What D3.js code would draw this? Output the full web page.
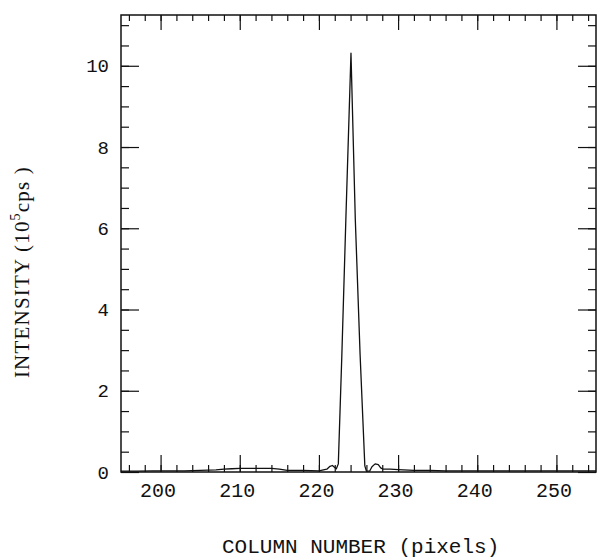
<!DOCTYPE html>
<html>
<head>
<meta charset="utf-8">
<script src="https://cdn.jsdelivr.net/npm/d3@7"></script>
<style>
  body { margin: 0; background: #fff; }
  .tick text { font-family: "Liberation Mono", "Courier New", monospace; }
</style>
</head>
<body>
<script>
// column number (pixels) vs intensity (10^5 cps)
var columns = [195, 197, 199, 201, 203, 205, 207, 208, 209, 210, 212, 214, 215, 216, 218, 220, 221,
    221.4, 221.7, 222.0, 222.2, 222.45, 222.9, 223.4, 224.05, 224.6, 225.2, 225.8, 226.0, 226.4,
    226.7, 227.1, 227.5, 227.8, 228.1, 229, 230, 232, 234, 236, 238, 240, 242, 244, 246, 248, 250, 252, 254, 255];
var intensity = [0.02, 0.02, 0.03, 0.03, 0.03, 0.04, 0.05, 0.07, 0.08, 0.09, 0.09, 0.09, 0.07, 0.04, 0.04, 0.03, 0.07,
    0.14, 0.16, 0.11, 0.08, 0.2, 2.9, 6.2, 10.31, 6.2, 2.9, 0.15, 0.02, 0.02,
    0.13, 0.2, 0.18, 0.1, 0.07, 0.07, 0.06, 0.04, 0.04, 0.03, 0.03, 0.03, 0.03, 0.03, 0.03, 0.03, 0.03, 0.03, 0.03, 0.03];

var xMajor = [200, 210, 220, 230, 240, 250];
var yMajor = [0, 2, 4, 6, 8, 10];

draw();

function draw()
{
var width = 598,
    height = 559,
    pLeft = 121, pRight = 596, pTop = 15, pBottom = 472;

var x = d3.scaleLinear().domain([195, 255]).range([pLeft, pRight]);
var y = d3.scaleLinear().domain([0, 11.25]).range([pBottom, pTop]);

var xMinor = d3.range(196, 255, 2);
var yMinor = d3.range(0.5, 11.25, 0.5);

var svg = d3.select("body").append("svg")
    .attr("width", width)
    .attr("height", height);

function clean(g) {
    g.select(".domain").remove();
    g.selectAll("line").attr("stroke", "#111").attr("stroke-width", 1.2);
}

// bottom axis
svg.append("g").attr("transform", "translate(0," + pBottom + ")")
    .call(d3.axisTop(x).tickValues(xMinor).tickSize(7).tickFormat(""))
    .call(clean);
svg.append("g").attr("transform", "translate(0," + pBottom + ")")
    .call(d3.axisTop(x).tickValues(xMajor).tickSize(17).tickFormat(""))
    .call(clean);
svg.append("g").attr("transform", "translate(-3," + pBottom + ")")
    .call(d3.axisBottom(x).tickValues(xMajor).tickSize(0).tickPadding(11).tickFormat(d3.format("d")))
    .call(function (g) {
        g.select(".domain").remove();
        g.selectAll("text").attr("font-size", 20).attr("fill", "#111");
    });

// top axis
svg.append("g").attr("transform", "translate(0," + pTop + ")")
    .call(d3.axisBottom(x).tickValues(xMinor).tickSize(6).tickFormat(""))
    .call(clean);
svg.append("g").attr("transform", "translate(0," + pTop + ")")
    .call(d3.axisBottom(x).tickValues(xMajor).tickSize(15).tickFormat(""))
    .call(clean);

// left axis
svg.append("g").attr("transform", "translate(" + pLeft + ",0)")
    .call(d3.axisRight(y).tickValues(yMinor).tickSize(8).tickFormat(""))
    .call(clean);
svg.append("g").attr("transform", "translate(" + pLeft + ",0)")
    .call(d3.axisRight(y).tickValues(yMajor).tickSize(18).tickFormat(""))
    .call(clean);
svg.append("g").attr("transform", "translate(" + pLeft + ",0)")
    .call(d3.axisLeft(y).tickValues(yMajor).tickSize(0).tickPadding(12).tickFormat(d3.format("d")))
    .call(function (g) {
        g.select(".domain").remove();
        g.selectAll("text").attr("font-size", 19).attr("fill", "#111");
    });

// right axis
svg.append("g").attr("transform", "translate(" + pRight + ",0)")
    .call(d3.axisLeft(y).tickValues(yMinor).tickSize(8).tickFormat(""))
    .call(clean);
svg.append("g").attr("transform", "translate(" + pRight + ",0)")
    .call(d3.axisLeft(y).tickValues(yMajor).tickSize(18).tickFormat(""))
    .call(clean);

// frame
svg.append("rect")
    .attr("x", pLeft).attr("y", pTop)
    .attr("width", pRight - pLeft).attr("height", pBottom - pTop)
    .attr("fill", "none").attr("stroke", "#111").attr("stroke-width", 1.5);

// curve
var line = d3.line()
    .x(function (d, i) { return x(columns[i]); })
    .y(function (d) { return y(d); });

svg.append("path")
    .datum(intensity)
    .attr("d", line)
    .attr("fill", "none")
    .attr("stroke", "#111")
    .attr("stroke-width", 1.3)
    .attr("stroke-linejoin", "round");

// axis titles
svg.append("text")
    .attr("x", 222).attr("y", 553)
    .attr("font-family", "'Liberation Mono', 'Courier New', monospace")
    .attr("font-size", 21)
    .attr("fill", "#111")
    .text("COLUMN NUMBER (pixels)");

var yt = svg.append("text")
    .attr("transform", "translate(29,272) rotate(-90)")
    .attr("text-anchor", "middle")
    .attr("font-family", "'Liberation Serif', 'Times New Roman', serif")
    .attr("font-size", 21)
    .attr("letter-spacing", 1.2)
    .attr("fill", "#111");
yt.append("tspan").text("INTENSITY (10");
yt.append("tspan").attr("dy", -9).attr("font-size", 14).text("5");
yt.append("tspan").attr("dy", 9).text("cps )");
}
</script>
</body>
</html>
